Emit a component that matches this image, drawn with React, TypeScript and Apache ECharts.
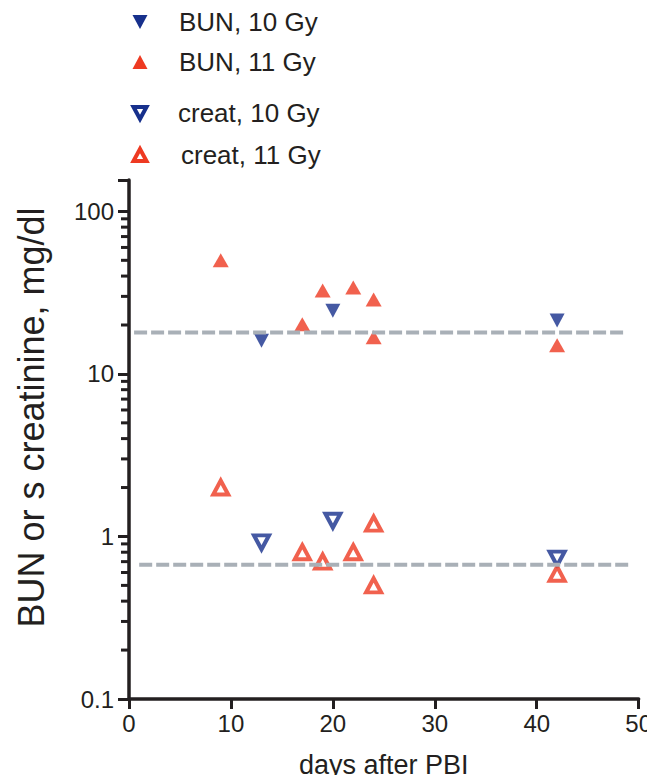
import React, { useEffect, useRef } from "react";
import * as echarts from "echarts";

// ---- data ----
const bun10Days = [13, 20, 42];
const bun10Values = [16, 24.5, 21.3];
const bun11Days = [9, 17, 19, 22, 24, 24, 42];
const bun11Values = [50, 20.2, 32.6, 34, 28.7, 16.8, 15];
const creat10Days = [13, 20, 42];
const creat10Values = [0.92, 1.25, 0.73];
const creat11Days = [9, 17, 19, 22, 24, 24, 42];
const creat11Values = [2.0, 0.8, 0.7, 0.8, 1.2, 0.5, 0.59];

const bunRefValue = 18;
const bunRefDays = [0.5, 48.5];
const creatRefValue = 0.67;
const creatRefDays = [1, 49];

const yMajorTicks = [0.1, 1, 10, 100];
const yMinorTicks = [
  0.2, 0.3, 0.4, 0.5, 0.6, 0.7, 0.8, 0.9,
  2, 3, 4, 5, 6, 7, 8, 9,
  20, 30, 40, 50, 60, 70, 80, 90,
];

const seriesNames = ["BUN, 10 Gy", "BUN, 11 Gy", "creat, 10 Gy", "creat, 11 Gy"];

const RED = "#ee3a22";
const BLUE = "#17308c";
const INK = "#231f20";
const GREY = "#a9b0b7";
const FONT = "'Liberation Sans', Arial, Helvetica, sans-serif";

const zip = (xs: number[], ys: number[]) => xs.map((x, i) => [x, ys[i]]);

export default function App() {
  const ref = useRef<HTMLDivElement>(null);
  useEffect(() => {
    if (!ref.current) return;
    const chart = echarts.init(ref.current, undefined, { renderer: "svg" });

    const legendRows = [
      { y: 22, name: seriesNames[0], up: false, filled: true, color: BLUE, tx: 179 },
      { y: 62, name: seriesNames[1], up: true, filled: true, color: RED, tx: 179 },
      { y: 113, name: seriesNames[2], up: false, filled: false, color: BLUE, tx: 178 },
      { y: 155, name: seriesNames[3], up: true, filled: false, color: RED, tx: 181 },
    ];
    const legendGraphic: any[] = [];
    legendRows.forEach((r) => {
      const cx = 140;
      const w = r.filled ? 15 : 13;
      const h = r.filled ? 14 : 12;
      const top = r.y - h / 2;
      const bot = r.y + h / 2;
      const pts = r.up
        ? [[cx - w / 2, bot], [cx + w / 2, bot], [cx, top]]
        : [[cx - w / 2, top], [cx + w / 2, top], [cx, bot]];
      legendGraphic.push({
        type: "polygon",
        shape: { points: pts },
        style: r.filled
          ? { fill: r.color }
          : { fill: "#fff", stroke: r.color, lineWidth: 4, lineJoin: "miter" },
      });
      legendGraphic.push({
        type: "text",
        x: r.tx,
        y: r.y,
        style: {
          text: r.name,
          fontSize: 26,
          fontFamily: FONT,
          fill: INK,
          verticalAlign: "middle",
          align: "left",
        },
      });
    });

    const option: any = {
      animation: false,
      backgroundColor: "#fff",
      grid: { left: 129, right: 16, top: 180, bottom: 84, containLabel: false },
      graphic: legendGraphic,
      xAxis: {
        type: "value",
        min: 0,
        max: 50,
        interval: 10,
        name: "days after PBI",
        nameLocation: "middle",
        nameGap: 52,
        nameTextStyle: { fontSize: 27, fontFamily: FONT, color: INK },
        axisLine: { show: true, lineStyle: { color: INK, width: 3.5 } },
        axisTick: { show: true, length: 10, lineStyle: { color: INK, width: 3 } },
        axisLabel: {
          fontSize: 24,
          fontFamily: FONT,
          color: INK,
          margin: 12,
        },
        splitLine: { show: false },
      },
      yAxis: {
        type: "log",
        logBase: 10,
        min: 0.1,
        max: 156,
        position: "left",
        name: "BUN or s creatinine, mg/dl",
        nameLocation: "middle",
        nameGap: 80,
        nameTextStyle: {
          fontSize: 36,
          fontFamily: FONT,
          color: INK,
          padding: [0, 0, 0, 44],
        },
        axisLine: { show: true, lineStyle: { color: INK, width: 3.5 } },
        axisTick: {
          show: true,
          length: 11,
          lineStyle: { color: INK, width: 3 },
        },
        axisLabel: {
          fontSize: 24,
          fontFamily: FONT,
          color: INK,
          margin: 15,
          formatter: (v: number) => (yMajorTicks.indexOf(v) >= 0 ? String(v) : ""),
        },
        splitLine: { show: false },
      },
      series: [
        {
          name: seriesNames[0],
          type: "scatter",
          data: zip(bun10Days, bun10Values),
          symbol: "triangle",
          symbolRotate: 180,
          symbolSize: [15, 14],
          itemStyle: { color: BLUE },
        },
        {
          name: seriesNames[1],
          type: "scatter",
          data: zip(bun11Days, bun11Values),
          symbol: "triangle",
          symbolSize: [16, 14],
          itemStyle: { color: RED },
        },
        {
          name: seriesNames[2],
          type: "scatter",
          data: zip(creat10Days, creat10Values),
          symbol: "triangle",
          symbolRotate: 180,
          symbolSize: [15, 14],
          itemStyle: { color: "#fff", borderColor: BLUE, borderWidth: 4 },
        },
        {
          name: seriesNames[3],
          type: "scatter",
          data: zip(creat11Days, creat11Values),
          symbol: "triangle",
          symbolSize: [15, 14],
          itemStyle: { color: "#fff", borderColor: RED, borderWidth: 4 },
        },
        {
          name: "BUN reference",
          type: "line",
          data: bunRefDays.map((d) => [d, bunRefValue]),
          symbol: "none",
          lineStyle: { color: GREY, width: 4, type: [13, 4] },
          z: 3,
        },
        {
          name: "creat reference",
          type: "line",
          data: creatRefDays.map((d) => [d, creatRefValue]),
          symbol: "none",
          lineStyle: { color: GREY, width: 4, type: [13, 4] },
          z: 3,
        },
      ],
    };
    chart.setOption(option);

    // minor ticks on the log axis, positioned through the axis' own scale
    const axisX = chart.convertToPixel({ xAxisIndex: 0 }, 0) as number;
    const tickGraphic = yMinorTicks.map((v) => {
      const py = chart.convertToPixel({ yAxisIndex: 0 }, v) as number;
      return {
        type: "rect",
        shape: { x: axisX - 8, y: py - 1.5, width: 8, height: 3 },
        style: { fill: INK },
        silent: true,
      };
    });
    chart.setOption({ graphic: [...legendGraphic, ...tickGraphic] });

    return () => chart.dispose();
  }, []);
  return <div ref={ref} style={{ width: 655, height: 783, margin: -8 }} />;
}
